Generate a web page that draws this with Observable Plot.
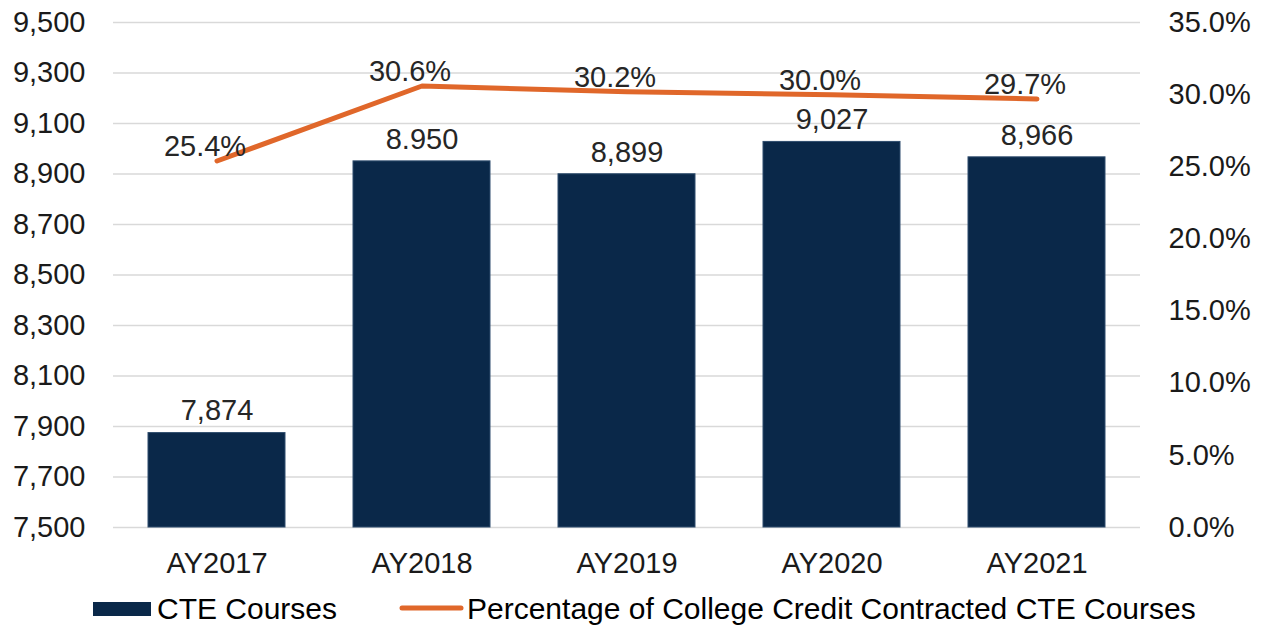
<!DOCTYPE html>
<html>
<head>
<meta charset="utf-8">
<script src="https://cdn.jsdelivr.net/npm/d3@7"></script>
<script src="https://cdn.jsdelivr.net/npm/@observablehq/plot@0.6"></script>
<style>
  html, body { margin: 0; padding: 0; background: #fff; }
  #wrap { width: 1263px; font-family: "Liberation Sans", Arial, sans-serif; }
  #legend { display: block; }
</style>
</head>
<body>
<div id="wrap"></div>
<script>
const years = ["AY2017", "AY2018", "AY2019", "AY2020", "AY2021"];
const courses = [7874, 8950, 8899, 9027, 8966];
const courseLabels = ["7,874", "8.950", "8,899", "9,027", "8,966"];
const pct = [25.4, 30.6, 30.2, 30.0, 29.7];
const pctLabels = ["25.4%", "30.6%", "30.2%", "30.0%", "29.7%"];
const leftTicks = [7500, 7700, 7900, 8100, 8300, 8500, 8700, 8900, 9100, 9300, 9500];
const rightTicks = [0, 5, 10, 15, 20, 25, 30, 35];
const seriesNames = ["CTE Courses", "Percentage of College Credit Contracted CTE Courses"];

const yMin = 7500, yMax = 9500, pMax = 35;
const toY = p => yMin + (p / pMax) * (yMax - yMin);

const rows = years.map((y, i) => ({
  year: y, courses: courses[i], courseLabel: courseLabels[i],
  pct: pct[i], pctY: toY(pct[i]), pctLabel: pctLabels[i]
}));

const FONT = "Liberation Sans, Arial, sans-serif";
const navy = "#0a2849";
const orange = "#e0672a";

const chart = Plot.plot({
  width: 1263,
  height: 590,
  marginLeft: 113,
  marginRight: 123,
  marginTop: 22,
  marginBottom: 63,
  style: { fontFamily: FONT, fontSize: "29px", color: "#1a1a1a", background: "#fff" },
  x: { domain: years, paddingInner: 0.333, paddingOuter: 0.1667, label: null },
  y: { domain: [yMin, yMax], label: null },
  marks: [
    Plot.gridY(leftTicks, { stroke: "#d9d9d9", strokeWidth: 1.5, strokeOpacity: 1 }),
    Plot.axisY(leftTicks, { anchor: "left", tickSize: 0, tickPadding: 28, fontSize: 29, label: null,
      tickFormat: d3.format(",") }),
    Plot.axisY(rightTicks.map(toY), { anchor: "right", tickSize: 0, tickPadding: 28, fontSize: 29, label: null,
      tickFormat: v => ((v - yMin) / (yMax - yMin) * pMax).toFixed(1) + "%" }),
    Plot.axisX({ anchor: "bottom", tickSize: 0, tickPadding: 25, fontSize: 29, label: null }),
    Plot.rectY(rows, { x: "year", y1: yMin, y2: "courses", fill: navy, stroke: "#2f4d6e", strokeWidth: 1 }),
    Plot.text(rows, { x: "year", y: "courses", text: "courseLabel", dy: -22, fontSize: 29, fill: "#262626" }),
    Plot.line(rows, { x: "year", y: "pctY", stroke: orange, strokeWidth: 5, strokeLinecap: "round", strokeLinejoin: "round" }),
    Plot.text(rows, { x: "year", y: "pctY", text: "pctLabel", dy: -14, dx: -12, fontSize: 29, fill: "#262626" })
  ]
});

const wrap = document.getElementById("wrap");
wrap.appendChild(chart);

// Legend below the chart
const ns = "http://www.w3.org/2000/svg";
const leg = document.createElementNS(ns, "svg");
leg.setAttribute("id", "legend");
leg.setAttribute("width", 1263);
leg.setAttribute("height", 37);
leg.style.fontFamily = FONT;
const top0 = 590;
function el(name, attrs, text) {
  const e = document.createElementNS(ns, name);
  for (const k in attrs) e.setAttribute(k, attrs[k]);
  if (text) e.textContent = text;
  leg.appendChild(e);
  return e;
}
el("rect", { x: 93, y: 602 - top0, width: 58, height: 14, fill: navy });
el("text", { x: 157, y: 608 - top0, "dominant-baseline": "central", "font-size": 30, fill: "#000" }, seriesNames[0]);
el("line", { x1: 402, x2: 461, y1: 608 - top0, y2: 608 - top0, stroke: orange, "stroke-width": 5, "stroke-linecap": "round" });
el("text", { x: 467, y: 608 - top0, "dominant-baseline": "central", "font-size": 30, fill: "#000" }, seriesNames[1]);
wrap.appendChild(leg);
</script>
</body>
</html>
